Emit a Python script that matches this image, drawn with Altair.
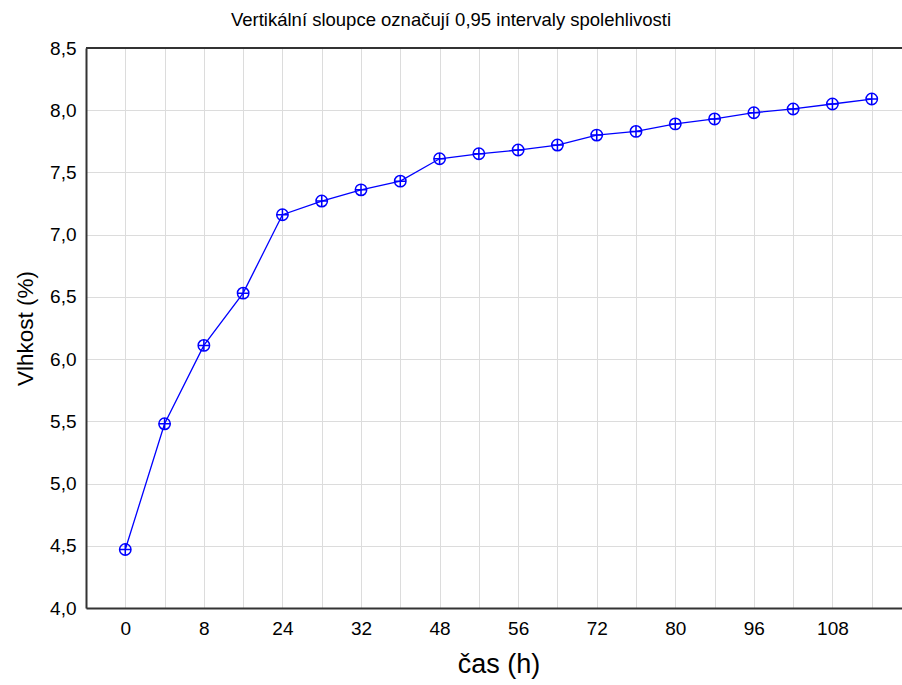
import json
import altair as alt
import pandas as pd

# x categories (time, h) - every other label is shown on the axis
time_labels = ["0", "4", "8", "16", "24", "28", "32", "40", "48", "52",
               "56", "64", "72", "76", "80", "88", "96", "100", "108", "112"]
shown_labels = ["0", "8", "24", "32", "48", "56", "72", "80", "96", "108"]
# moisture (%) means
moisture = [4.47, 5.48, 6.11, 6.53, 7.16, 7.27, 7.36, 7.43, 7.61, 7.65,
            7.68, 7.72, 7.80, 7.83, 7.89, 7.93, 7.98, 8.01, 8.05, 8.09]
y_ticks = [4.0, 4.5, 5.0, 5.5, 6.0, 6.5, 7.0, 7.5, 8.0, 8.5]

df = pd.DataFrame({"cas": time_labels, "vlhkost": moisture})

FONT = "Liberation Sans"
BLUE = "#0000ff"

xscale = alt.Scale(type="point", padding=1, range=[0, 825])
x_enc = alt.X(
    "cas:O",
    sort=time_labels,
    scale=xscale,
    title="čas (h)",
    axis=alt.Axis(
        labelAngle=0,
        labelExpr="indexof(" + json.dumps(shown_labels) + ", datum.value) >= 0 ? datum.label : ''",
        labelFontSize=19,
        labelFont=FONT,
        labelColor="#000",
        labelPadding=11,
        tickSize=0,
        titleFontSize=27,
        titleFont=FONT,
        titleFontWeight="normal",
        titleColor="#000",
        titlePadding=13,
        domainColor="#333",
        domainWidth=2,
        gridColor="#dcdcdc",
        gridWidth=1,
        grid=True,
    ),
)
y_enc = alt.Y(
    "vlhkost:Q",
    scale=alt.Scale(domain=[4.0, 8.5], nice=False, zero=False),
    title="Vlhkost (%)",
    axis=alt.Axis(
        values=y_ticks,
        labelExpr="replace(format(datum.value, '.1f'), '.', ',')",
        labelFontSize=19,
        labelFont=FONT,
        labelColor="#000",
        labelPadding=10,
        tickSize=0,
        titleFontSize=22.5,
        titleFont=FONT,
        titleFontWeight="normal",
        titleColor="#000",
        titlePadding=12,
        domainColor="#333",
        domainWidth=2,
        gridColor="#dcdcdc",
        gridWidth=1,
        grid=True,
    ),
)

base = alt.Chart(df).encode(x=x_enc, y=y_enc)

line = base.mark_line(color=BLUE, strokeWidth=1.3)
circles = base.mark_point(shape="circle", filled=False, color=BLUE, size=130,
                          strokeWidth=1.5, opacity=1)
plus = base.mark_point(shape="M-1,0L1,0M0,-1L0,1", filled=False, color=BLUE,
                       size=130, strokeWidth=1.5, opacity=1)

top_spine = alt.Chart(pd.DataFrame({"a": [0]})).mark_rule(
    color="#333", strokeWidth=2
).encode(y=alt.value(0), x=alt.value(0), x2=alt.value(816))

chart = (
    alt.layer(line, circles, plus, top_spine)
    .properties(
        width=816,
        height=560,
        title=alt.TitleParams(
            "Vertikální sloupce označují 0,95 intervaly spolehlivosti",
            fontSize=18.5,
            font=FONT,
            fontWeight="normal",
            color="#000",
            dx=-43,
            offset=10,
        ),
        autosize=alt.AutoSizeParams(type="none"),
        padding={"left": 86, "top": 48, "right": 0, "bottom": 77},
    )
    .configure_view(stroke=None)
    .configure(background="white")
)

chart.save("out.html", embed_options={"renderer": "svg", "actions": False})
